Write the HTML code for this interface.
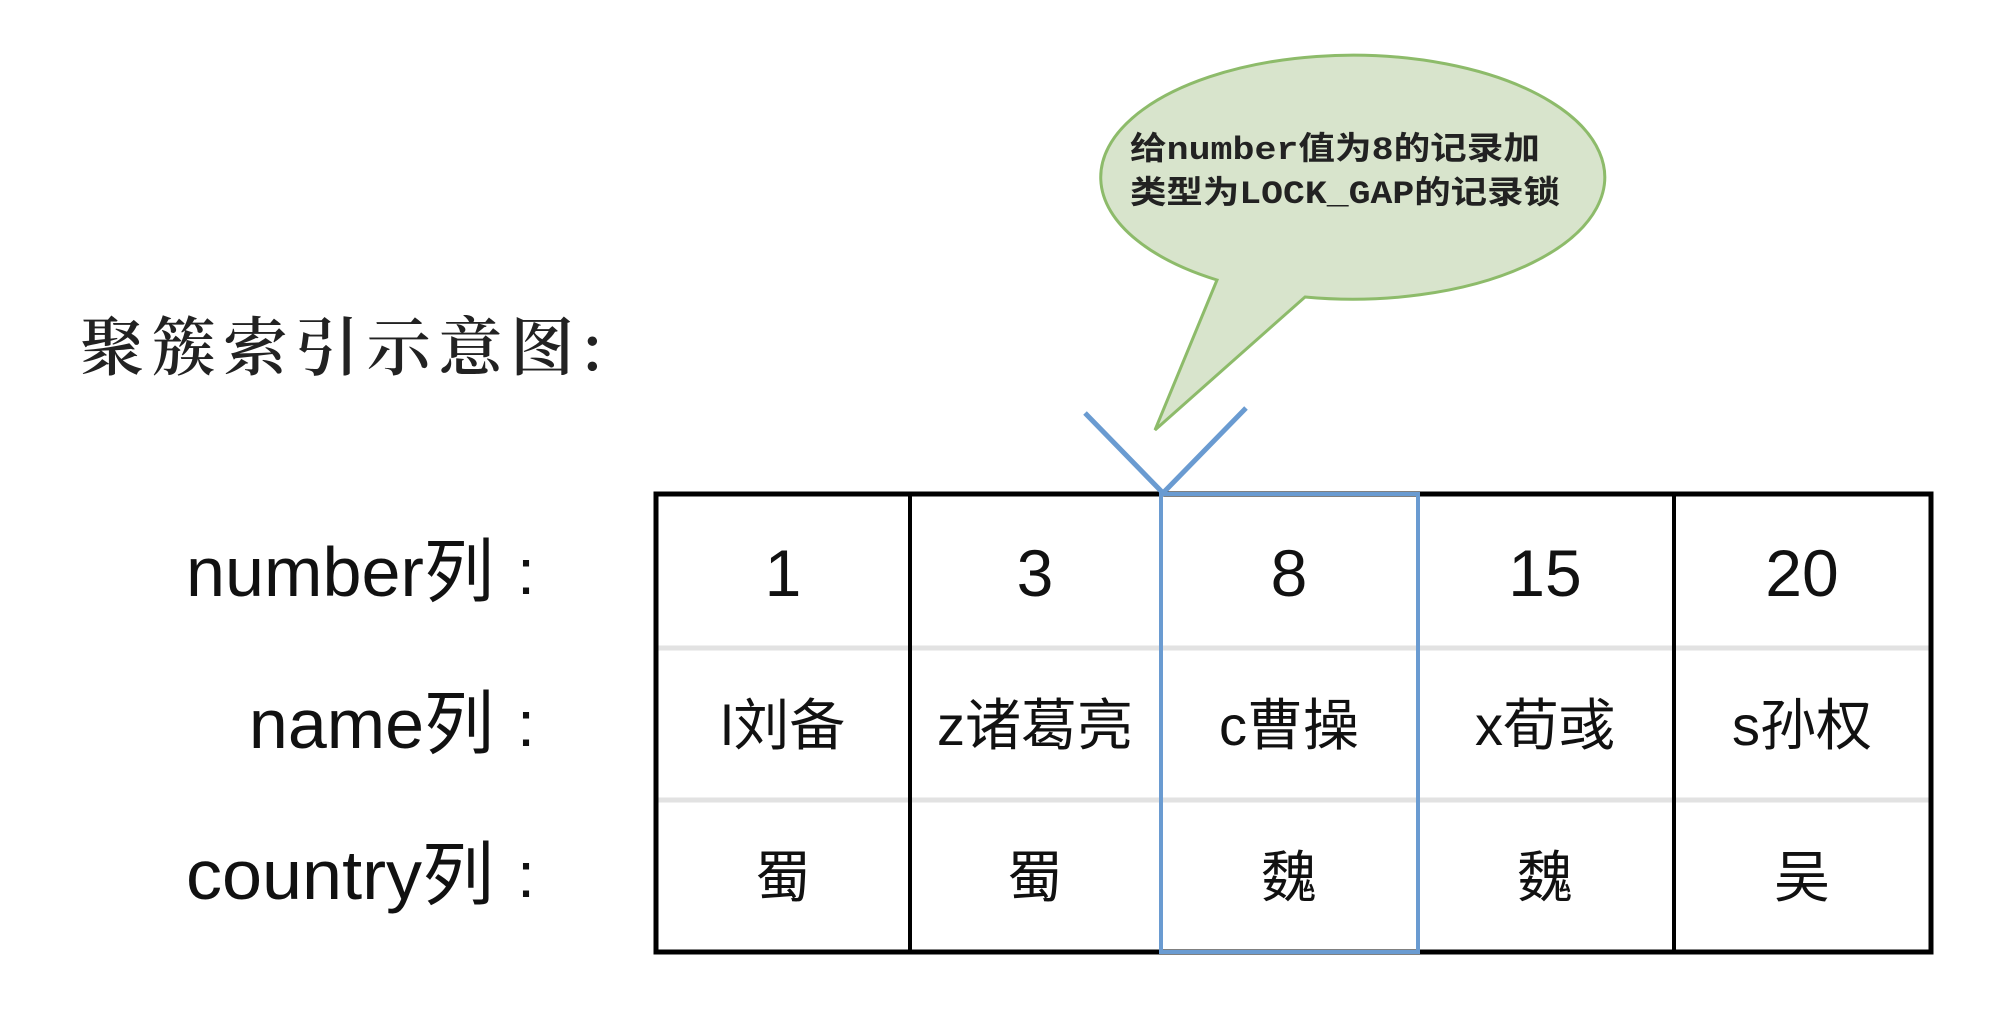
<!DOCTYPE html>
<html><head><meta charset="utf-8"><style>
body{margin:0;background:#fff;}
svg{display:block}
</style></head><body>
<svg width="2012" height="1022" xmlns="http://www.w3.org/2000/svg">
<rect width="2012" height="1022" fill="#fff"/>
<path d="M1217,280 L1155,430 L1305,297 A252,122 0 1 0 1217,280 Z" fill="#d8e4cc" stroke="#8dbb6a" stroke-width="3"/>
<g font-family="Liberation Mono, Noto Sans CJK SC, sans-serif" font-size="32" font-weight="bold" fill="#222">
<text x="1130" y="159" textLength="410" lengthAdjust="spacingAndGlyphs">给number值为8的记录加</text>
<text x="1130" y="203" textLength="430" lengthAdjust="spacingAndGlyphs">类型为LOCK_GAP的记录锁</text>
</g>
<text x="80" y="370" font-family="Noto Serif CJK SC, serif" font-size="64" font-weight="600" fill="#222" textLength="523" lengthAdjust="spacing">聚簇索引示意图:</text>
<g font-family="Liberation Sans, Noto Sans CJK SC, sans-serif" font-size="70" fill="#111" text-anchor="end">
<text x="494" y="596" textLength="308" lengthAdjust="spacingAndGlyphs">number列</text>
<text x="494" y="748">name列</text>
<text x="494" y="899" textLength="308" lengthAdjust="spacingAndGlyphs">country列</text>
</g>
<g font-family="Liberation Sans, sans-serif" font-size="64" fill="#111" text-anchor="middle">
<text x="526" y="594">:</text>
<text x="526" y="746">:</text>
<text x="526" y="897">:</text>
</g>
<line x1="656" y1="648" x2="1931" y2="648" stroke="#e2e2e2" stroke-width="5"/>
<line x1="656" y1="800" x2="1931" y2="800" stroke="#e2e2e2" stroke-width="5"/>
<rect x="656" y="494" width="1275" height="458" fill="none" stroke="#000" stroke-width="5"/>
<line x1="910" y1="494" x2="910" y2="952" stroke="#000" stroke-width="4"/>
<line x1="1674" y1="494" x2="1674" y2="952" stroke="#000" stroke-width="4"/>
<rect x="1161" y="494" width="257" height="458" fill="none" stroke="#6a9bd1" stroke-width="4"/>
<polyline points="1085,413 1163,493 1246,408" fill="none" stroke="#6a9bd1" stroke-width="5"/>
<g font-family="Liberation Sans, Noto Sans CJK SC, sans-serif" font-size="66" fill="#111" text-anchor="middle">
<text x="783" y="596">1</text><text x="1035" y="596">3</text><text x="1289" y="596">8</text><text x="1545" y="596">15</text><text x="1802" y="596">20</text>
</g>
<g font-family="Liberation Sans, Noto Sans CJK SC, sans-serif" font-size="56" fill="#111" text-anchor="middle">
<text x="783" y="745">l刘备</text><text x="1035" y="745">z诸葛亮</text><text x="1289" y="745">c曹操</text><text x="1545" y="745">x荀彧</text><text x="1802" y="745">s孙权</text>
<text x="783" y="897">蜀</text><text x="1035" y="897">蜀</text><text x="1289" y="897">魏</text><text x="1545" y="897">魏</text><text x="1802" y="897">吴</text>
</g>
</svg>
</body></html>
